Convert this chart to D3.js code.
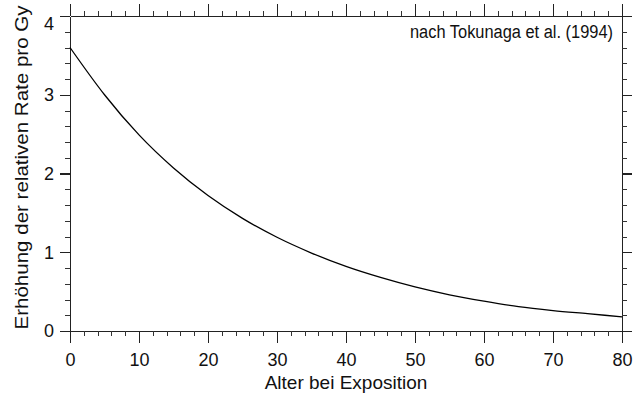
<!DOCTYPE html>
<html lang="de">
  <head>
    <meta charset="UTF-8" />
    <title>Erhöhung der relativen Rate pro Gy</title>
    <script src="https://d3js.org/d3.v7.min.js"></script>
    <style>
      body {
        margin: 0;
        padding: 0;
        background: #fff;
        font-family: "Liberation Sans", Arial, sans-serif;
      }
      svg {
        display: block;
      }
      .axis path,
      .axis line {
        stroke: #222;
        stroke-width: 1.4;
        shape-rendering: crispEdges;
      }
      .axis text {
        font-family: "Liberation Sans", Arial, sans-serif;
        font-size: 18px;
        fill: #111;
      }
      .minor line {
        stroke-width: 1;
        stroke: #333;
      }
      .curve {
        fill: none;
        stroke: #000;
        stroke-width: 1.3;
      }
      .title {
        font-family: "Liberation Sans", Arial, sans-serif;
        font-size: 19px;
        fill: #111;
      }
      .source {
        font-family: "Liberation Sans Narrow", "Arial Narrow", "Liberation Sans", sans-serif;
        font-size: 18px;
        fill: #111;
      }
    </style>
  </head>
  <body>
    <script>
      // Alter bei Exposition (Jahre) und Erhöhung der relativen Rate pro Gy
      const ages = [0, 5, 10, 15, 20, 25, 30, 35, 40, 45, 50, 55, 60, 65, 70, 75, 80];
      const excessRate = [3.60, 3.00, 2.49, 2.07, 1.72, 1.43, 1.19, 0.99, 0.82, 0.68,
                          0.56, 0.46, 0.38, 0.31, 0.26, 0.22, 0.18];

      // Achsenbeschriftungen
      const xMajorTicks = [0, 10, 20, 30, 40, 50, 60, 70, 80];
      const yMajorTicks = [0, 1, 2, 3, 4];
      const xMinorStep = 2;
      const yMinorStep = 0.2;

      const xTitle = "Alter bei Exposition";
      const yTitle = "Erhöhung der relativen Rate pro Gy";
      const sourceNote = "nach Tokunaga et al. (1994)";

      const width = 637,
            height = 394;
      const margin = { top: 16, right: 15, bottom: 63, left: 70 };

      const svg = d3.select("body")
                    .append("svg")
                    .attr("width", width)
                    .attr("height", height);

      const x = d3.scaleLinear()
                  .domain([0, 80])
                  .range([margin.left, width - margin.right]);
      const y = d3.scaleLinear()
                  .domain([0, 4])
                  .range([height - margin.bottom, margin.top]);

      const xMinor = d3.range(0, 80 + 1e-9, xMinorStep).filter(v => v % 10 !== 0);
      const yMinor = d3.range(0, 4 + 1e-9, yMinorStep)
                       .map(v => +v.toFixed(1))
                       .filter(v => Math.abs(v - Math.round(v)) > 1e-6);

      // Helper: draw one side of the frame with major + minor ticks
      function side(axisFn, scale, majors, minors, transform, labels) {
        const g = svg.append("g").attr("class", "axis").attr("transform", transform);
        g.call(axisFn(scale).tickValues(majors).tickSize(12).tickSizeOuter(0)
                 .tickPadding(6)
                 .tickFormat(labels ? d3.format("d") : ""));
        const m = svg.append("g").attr("class", "axis minor").attr("transform", transform);
        m.call(axisFn(scale).tickValues(minors).tickSize(5).tickSizeOuter(0).tickFormat(""));
        m.select(".domain").remove();
        return g;
      }

      const bottom = side(d3.axisBottom, x, xMajorTicks, xMinor,
                          `translate(0,${y(0)})`, true);
      bottom.selectAll(".tick text").attr("dy", "0.95em");
      side(d3.axisTop, x, xMajorTicks, xMinor, `translate(0,${y(4)})`, false);

      const left = side(d3.axisLeft, y, yMajorTicks, yMinor,
                        `translate(${x(0)},0)`, true);
      left.selectAll(".tick line").attr("x2", -10);
      left.selectAll(".tick text").attr("x", -16);
      // top label sits just below the frame corner
      left.selectAll(".tick").filter(d => d === 4).select("text").attr("dy", "0.75em");
      const right = side(d3.axisRight, y, yMajorTicks, yMinor,
                         `translate(${x(80)},0)`, false);
      right.selectAll(".tick line").attr("x2", 10);

      // Kurve
      const line = d3.line()
                     .x((d, i) => x(ages[i]))
                     .y(d => y(d))
                     .curve(d3.curveMonotoneX);
      svg.append("path")
         .datum(excessRate)
         .attr("class", "curve")
         .attr("d", line);

      // Titles
      svg.append("text")
         .attr("class", "title")
         .attr("x", (x(0) + x(80)) / 2)
         .attr("y", 389)
         .attr("text-anchor", "middle")
         .text(xTitle);

      svg.append("text")
         .attr("class", "title")
         .attr("transform", `translate(28,${(y(0) + y(4)) / 2 - 6}) rotate(-90)`)
         .attr("text-anchor", "middle")
         .attr("textLength", 324)
         .attr("lengthAdjust", "spacingAndGlyphs")
         .text(yTitle);

      svg.append("text")
         .attr("class", "source")
         .attr("x", 613)
         .attr("y", 38)
         .attr("text-anchor", "end")
         .attr("textLength", 203)
         .attr("lengthAdjust", "spacingAndGlyphs")
         .text(sourceNote);
    </script>
  </body>
</html>
